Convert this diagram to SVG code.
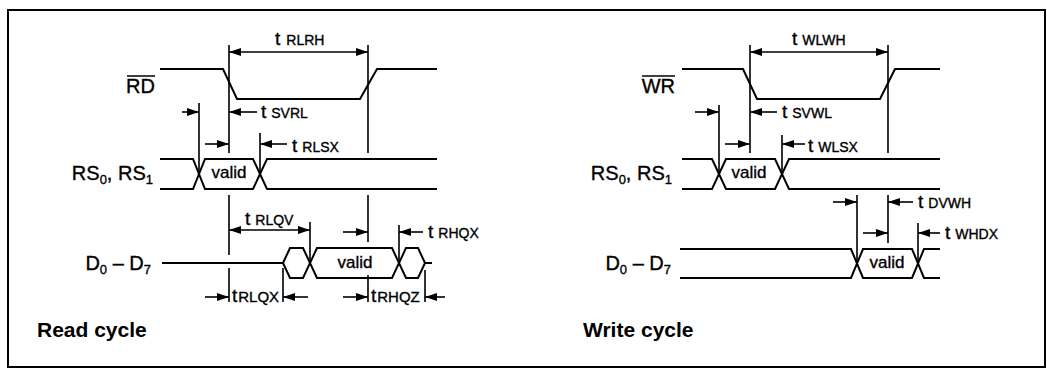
<svg xmlns="http://www.w3.org/2000/svg" width="1047" height="371" viewBox="0 0 1047 371">
<style>
.sig{fill:none;stroke:#000;stroke-width:2;stroke-linejoin:miter}
.v{fill:none;stroke:#000;stroke-width:1.6}
.a{fill:none;stroke:#000;stroke-width:1.6;marker-end:url(#ah)}
.d{fill:none;stroke:#000;stroke-width:1.6;marker-start:url(#ah);marker-end:url(#ah)}
text{font-family:"Liberation Sans",Arial,sans-serif;fill:#000;stroke:#000;stroke-width:0.35}
.lbl{font-size:20px;text-anchor:end}
.sub{font-size:13px}
.tt{font-size:19px}
.ts{font-size:14px}
.bt{font-size:15px}
.val{font-size:17px;text-anchor:middle}
.cyc{font-size:21px;font-weight:bold;stroke-width:0}
</style>
<defs>
<marker id="ah" markerUnits="userSpaceOnUse" markerWidth="13" markerHeight="9" refX="12" refY="4" orient="auto-start-reverse">
<path d="M0,0 L12,4 L0,8 Z" fill="#000"/>
</marker>
</defs>
<rect x="8" y="10" width="1037" height="357" fill="#fff" stroke="#000" stroke-width="2"/>

<g id="read-labels">
<text class="lbl" x="155" y="93">RD</text>
<line x1="127" y1="76" x2="155" y2="76" stroke="#000" stroke-width="1.5"/>
<text class="lbl" x="153" y="180">RS<tspan class="sub" dy="4">0</tspan><tspan dy="-4">, RS</tspan><tspan class="sub" dy="4">1</tspan></text>
<text class="lbl" x="151" y="270">D<tspan class="sub" dy="4">0</tspan><tspan dy="-4"> – D</tspan><tspan class="sub" dy="4">7</tspan></text>
<text class="cyc" x="37" y="337">Read cycle</text>
</g>

<g id="read-signals">
<path class="sig" d="M160,69 H223 L237,99 H360 L377,69 H437"/>
<path class="sig" d="M160,159 H193 L205,189 H253 L267,159 H437"/>
<path class="sig" d="M160,189 H193 L205,159 H253 L267,189 H437"/>
<path class="sig" d="M162,263 H283 L290,248 H303 L317,278 H392 L406,248 H418 L425,263 H432"/>
<path class="sig" d="M283,263 L290,278 H303 L317,248 H392 L406,278 H418 L425,263"/>
<text class="val" x="229" y="178">valid</text>
<text class="val" x="355" y="268">valid</text>
</g>

<g id="read-timing">
<path class="v" d="M199,103 V174 M229,45 V153 M229,195 V255 M229,268 V302 M368,45 V153 M368,195 V242 M368,275 V302 M260,133 V174 M310,222 V263 M399,225 V263 M283,268 V302 M425,270 V302"/>
<line class="d" x1="229" y1="52" x2="368" y2="52"/>
<text x="275" y="45"><tspan class="tt">t</tspan><tspan class="ts" dx="6">RLRH</tspan></text>
<line class="a" x1="182" y1="112" x2="199" y2="112"/>
<line class="a" x1="257" y1="112" x2="229" y2="112"/>
<text x="261" y="118"><tspan class="tt">t</tspan><tspan class="ts" dx="5">SVRL</tspan></text>
<line class="a" x1="205" y1="144" x2="229" y2="144"/>
<line class="a" x1="287" y1="144" x2="260" y2="144"/>
<text x="292" y="152"><tspan class="tt">t</tspan><tspan class="ts" dx="5">RLSX</tspan></text>
<line class="d" x1="229" y1="230" x2="310" y2="230"/>
<text x="245" y="225"><tspan class="tt">t</tspan><tspan class="ts" dx="5">RLQV</tspan></text>
<line class="a" x1="343" y1="232" x2="368" y2="232"/>
<line class="a" x1="423" y1="232" x2="399" y2="232"/>
<text x="428" y="238"><tspan class="tt">t</tspan><tspan class="ts" dx="5">RHQX</tspan></text>
<line class="a" x1="205" y1="297" x2="229" y2="297"/>
<line class="a" x1="308" y1="297" x2="283" y2="297"/>
<text x="232" y="302"><tspan class="tt">t</tspan><tspan class="bt" dx="1">RLQX</tspan></text>
<line class="a" x1="343" y1="297" x2="368" y2="297"/>
<line class="a" x1="445" y1="297" x2="425" y2="297"/>
<text x="371" y="302"><tspan class="tt">t</tspan><tspan class="bt" dx="1">RHQZ</tspan></text>
</g>

<g id="write-labels">
<text class="lbl" x="675" y="93">WR</text>
<line x1="642" y1="76" x2="675" y2="76" stroke="#000" stroke-width="1.5"/>
<text class="lbl" x="672" y="180">RS<tspan class="sub" dy="4">0</tspan><tspan dy="-4">, RS</tspan><tspan class="sub" dy="4">1</tspan></text>
<text class="lbl" x="671" y="270">D<tspan class="sub" dy="4">0</tspan><tspan dy="-4"> – D</tspan><tspan class="sub" dy="4">7</tspan></text>
<text class="cyc" x="583" y="337">Write cycle</text>
</g>

<g id="write-signals">
<path class="sig" d="M682,69 H743 L757,99 H880 L895,69 H940"/>
<path class="sig" d="M682,159 H712 L726,189 H775 L789,159 H940"/>
<path class="sig" d="M682,189 H712 L726,159 H775 L789,189 H940"/>
<path class="sig" d="M680,249 H851 L863,278 H912 L924,249 H940"/>
<path class="sig" d="M680,278 H851 L863,249 H912 L924,278 H940"/>
<text class="val" x="749" y="178">valid</text>
<text class="val" x="887" y="268">valid</text>
</g>

<g id="write-timing">
<path class="v" d="M719,105 V174 M750,45 V153 M888,45 V153 M888,195 V243 M782,135 V174 M857,195 V263 M918,223 V263"/>
<line class="d" x1="750" y1="52" x2="888" y2="52"/>
<text x="792" y="45"><tspan class="tt">t</tspan><tspan class="ts" dx="5">WLWH</tspan></text>
<line class="a" x1="695" y1="112" x2="719" y2="112"/>
<line class="a" x1="777" y1="112" x2="750" y2="112"/>
<text x="782" y="118"><tspan class="tt">t</tspan><tspan class="ts" dx="5">SVWL</tspan></text>
<line class="a" x1="725" y1="144" x2="750" y2="144"/>
<line class="a" x1="805" y1="144" x2="782" y2="144"/>
<text x="808" y="152"><tspan class="tt">t</tspan><tspan class="ts" dx="5">WLSX</tspan></text>
<line class="a" x1="833" y1="202" x2="857" y2="202"/>
<line class="a" x1="913" y1="202" x2="888" y2="202"/>
<text x="918" y="208"><tspan class="tt">t</tspan><tspan class="ts" dx="5">DVWH</tspan></text>
<line class="a" x1="863" y1="233" x2="888" y2="233"/>
<line class="a" x1="940" y1="233" x2="918" y2="233"/>
<text x="945" y="239"><tspan class="tt">t</tspan><tspan class="ts" dx="5">WHDX</tspan></text>
</g>
</svg>
